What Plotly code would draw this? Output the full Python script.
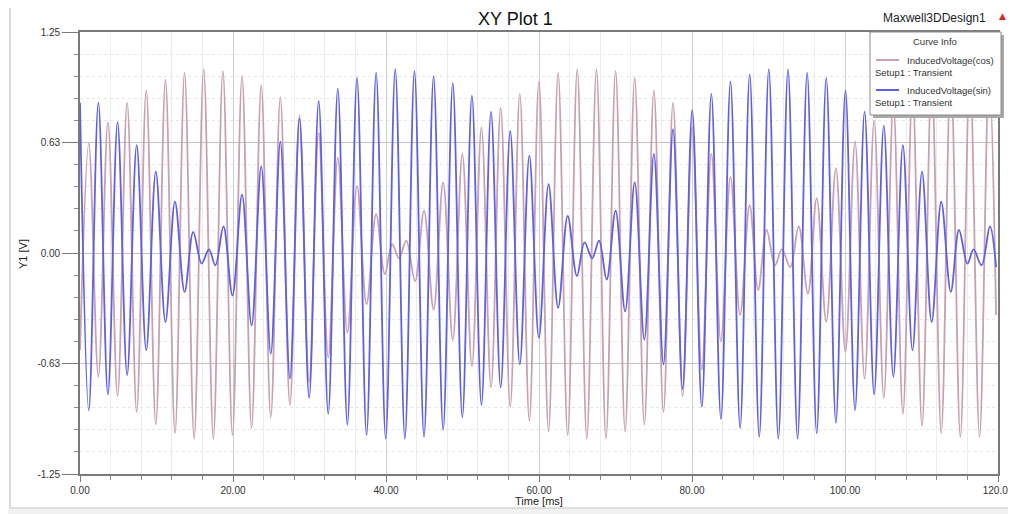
import plotly.graph_objects as go

# ---------------- data (time in ms, voltage in V) ----------------
# InducedVoltage(cos): successive peaks / troughs
cos_time = [0.00, 1.15, 2.40, 3.65, 4.91, 6.16, 7.41, 8.66, 9.91, 11.17,
            12.42, 13.67, 14.92, 16.17, 17.43, 18.68, 19.93, 21.18, 22.43, 23.69,
            24.94, 26.19, 27.44, 28.69, 29.95, 31.20, 32.45, 33.70, 34.95, 36.21,
            37.46, 38.71, 39.85, 40.80, 41.70, 42.65, 43.80, 44.97, 46.22, 47.47,
            48.73, 49.98, 51.23, 52.48, 53.73, 54.99, 56.24, 57.49, 58.74, 59.99,
            61.25, 62.50, 63.75, 65.00, 66.25, 67.51, 68.76, 70.01, 71.26, 72.51,
            73.77, 75.02, 76.27, 77.52, 78.77, 80.03, 81.28, 82.53, 83.78, 85.03,
            86.29, 87.54, 88.65, 89.75, 90.85, 91.75, 92.85, 93.95, 95.15, 96.30,
            97.55, 98.81, 100.06, 101.31, 102.56, 103.81, 105.07, 106.32, 107.57, 108.82,
            110.07, 111.33, 112.58, 113.83, 115.08, 116.33, 117.59, 118.84, 119.75]
cos_volt = [-0.55, 0.62, -0.70, 0.74, -0.81, 0.85, -0.90, 0.92, -0.97, 0.98,
            -1.02, 1.02, -1.05, 1.04, -1.05, 1.03, -1.03, 1.00, -0.99, 0.95,
            -0.93, 0.88, -0.86, 0.78, -0.73, 0.68, -0.59, 0.54, -0.45, 0.38,
            -0.29, 0.22, -0.12, 0.05, -0.03, 0.07, -0.16, 0.24, -0.32, 0.40,
            -0.49, 0.56, -0.64, 0.71, -0.76, 0.82, -0.87, 0.90, -0.95, 0.97,
            -1.01, 1.02, -1.03, 1.04, -1.05, 1.04, -1.05, 1.03, -1.01, 0.99,
            -0.97, 0.92, -0.90, 0.85, -0.81, 0.71, -0.66, 0.56, -0.50, 0.43,
            -0.35, 0.27, -0.21, 0.13, -0.07, 0.02, -0.08, 0.15, -0.23, 0.31,
            -0.39, 0.48, -0.56, 0.63, -0.71, 0.75, -0.82, 0.85, -0.91, 0.93,
            -0.98, 0.99, -1.02, 1.03, -1.04, 1.04, -1.04, 1.03, -0.35]

# InducedVoltage(sin): successive peaks / troughs
sin_time = [0.00, 1.15, 2.40, 3.65, 4.91, 6.16, 7.41, 8.66, 9.91, 11.17,
            12.42, 13.67, 14.80, 15.90, 16.85, 17.70, 18.75, 19.93, 21.18, 22.43,
            23.69, 24.94, 26.19, 27.44, 28.69, 29.95, 31.20, 32.45, 33.70, 34.95,
            36.21, 37.46, 38.71, 39.96, 41.21, 42.47, 43.72, 44.97, 46.22, 47.47,
            48.73, 49.98, 51.23, 52.48, 53.73, 54.99, 56.24, 57.49, 58.74, 59.99,
            61.25, 62.50, 63.75, 64.95, 65.95, 66.95, 67.85, 68.85, 70.01, 71.26,
            72.51, 73.77, 75.02, 76.27, 77.52, 78.77, 80.03, 81.28, 82.53, 83.78,
            85.03, 86.29, 87.54, 88.79, 90.04, 91.29, 92.55, 93.80, 95.05, 96.30,
            97.55, 98.81, 100.06, 101.31, 102.56, 103.81, 105.07, 106.32, 107.57, 108.82,
            110.07, 111.33, 112.58, 113.83, 114.90, 116.00, 116.80, 117.85, 118.95, 119.75]
sin_volt = [0.85, -0.89, 0.85, -0.80, 0.74, -0.69, 0.61, -0.55, 0.46, -0.39,
            0.29, -0.22, 0.12, -0.06, 0.02, -0.07, 0.15, -0.24, 0.33, -0.41,
            0.49, -0.57, 0.63, -0.71, 0.76, -0.82, 0.86, -0.91, 0.93, -0.97,
            0.99, -1.03, 1.02, -1.05, 1.04, -1.05, 1.03, -1.04, 1.00, -1.00,
            0.96, -0.93, 0.89, -0.86, 0.80, -0.76, 0.69, -0.63, 0.55, -0.48,
            0.39, -0.31, 0.21, -0.13, 0.06, -0.03, 0.07, -0.15, 0.24, -0.33,
            0.40, -0.49, 0.56, -0.63, 0.70, -0.77, 0.81, -0.87, 0.90, -0.94,
            0.97, -0.99, 1.01, -1.04, 1.04, -1.05, 1.04, -1.05, 1.02, -1.02,
            0.99, -0.96, 0.92, -0.89, 0.80, -0.80, 0.72, -0.70, 0.61, -0.55,
            0.46, -0.39, 0.29, -0.22, 0.13, -0.06, 0.02, -0.07, 0.15, -0.08]

x_tick_vals = [0, 20, 40, 60, 80, 100, 120]
x_tick_text = ["0.00", "20.00", "40.00", "60.00", "80.00", "100.00", "120.00"]
y_tick_vals = [-1.25, -0.625, 0.0, 0.625, 1.25]
y_tick_text = ["-1.25", "-0.63", "0.00", "0.63", "1.25"]

series_names = ["InducedVoltage(cos)", "InducedVoltage(sin)"]
setup_label = "Setup1 : Transient"

# ---------------- styling ----------------
W, H = 1016, 514          # target picture size
BODY = 8                  # default page margin of the html body
PL, PR, PT, PB = 80, 998, 32, 474   # plot area in picture pixels
FONT = "Liberation Sans, Arial, sans-serif"
COS_COLOR = "#c6a0b3"
SIN_COLOR = "#6060e2"


def fx(x):
    return (x - PL) / (PR - PL)


def fy(y):
    return (PB - y) / (PB - PT)


fig = go.Figure()
fig.add_trace(go.Scatter(x=cos_time, y=cos_volt, mode="lines", name=series_names[0],
                         line=dict(color=COS_COLOR, width=1.8, shape="spline", smoothing=1.0)))
fig.add_trace(go.Scatter(x=sin_time, y=sin_volt, mode="lines", name=series_names[1],
                         line=dict(color=SIN_COLOR, width=1.8, shape="spline", smoothing=1.0)))

fig.update_xaxes(range=[0, 120], tickmode="array", tickvals=x_tick_vals, ticktext=x_tick_text,
                 automargin=False,
                 showline=True, linecolor="#7a7a7a", linewidth=1.6, mirror=True,
                 ticks="outside", ticklen=6, tickcolor="#7a7a7a",
                 showgrid=True, gridcolor="#cfcfcf", gridwidth=1, zeroline=False,
                 tickfont=dict(family=FONT, size=10, color="#333"),
                 minor=dict(dtick=4, tick0=0, ticks="outside", ticklen=4, tickcolor="#8a8a8a",
                            showgrid=True, gridcolor="#ececec", gridwidth=1))
fig.update_yaxes(range=[-1.25, 1.25], tickmode="array", tickvals=y_tick_vals, ticktext=y_tick_text,
                 automargin=False,
                 showline=True, linecolor="#7a7a7a", linewidth=1.6, mirror=True,
                 ticks="outside", ticklen=16, tickcolor="#7a7a7a",
                 showgrid=True, gridcolor="#c4c4c4", gridwidth=1, zeroline=False,
                 tickfont=dict(family=FONT, size=10, color="#333"),
                 minor=dict(dtick=0.125, tick0=0, ticks="outside", ticklen=4, tickcolor="#8a8a8a",
                            showgrid=True, gridcolor="#e6e6e6", gridwidth=1, griddash="dot"))

shapes = []
# outer frame (left and bottom edges) and grey strip at bottom
shapes.append(dict(type="rect", xref="paper", yref="paper", x0=fx(BODY), x1=fx(W), y0=fy(H), y1=fy(508),
                   line=dict(width=0), fillcolor="#f1f1f1", layer="below"))
shapes.append(dict(type="line", xref="paper", yref="paper", x0=fx(10), x1=fx(10), y0=fy(8), y1=fy(508),
                   line=dict(color="#b5b5b5", width=1)))
shapes.append(dict(type="line", xref="paper", yref="paper", x0=fx(10), x1=fx(1014), y0=fy(508), y1=fy(508),
                   line=dict(color="#c5c5c5", width=1)))
# legend box with shadow
shapes.append(dict(type="rect", xref="paper", yref="paper", x0=fx(873), x1=fx(1004), y0=fy(118), y1=fy(35),
                   line=dict(width=0), fillcolor="#a8a8a8", layer="above"))
shapes.append(dict(type="rect", xref="paper", yref="paper", x0=fx(870), x1=fx(1001), y0=fy(115), y1=fy(32),
                   line=dict(color="#8a8a8a", width=1), fillcolor="white", layer="above"))
shapes.append(dict(type="line", xref="paper", yref="paper", x0=fx(876), x1=fx(899), y0=fy(60), y1=fy(60),
                   line=dict(color=COS_COLOR, width=2), layer="above"))
shapes.append(dict(type="line", xref="paper", yref="paper", x0=fx(876), x1=fx(899), y0=fy(90), y1=fy(90),
                   line=dict(color=SIN_COLOR, width=2), layer="above"))

annotations = []


def txt(text, x, y, size, anchor="center", color="#222", angle=0, family=FONT):
    annotations.append(dict(text=text, x=fx(x), y=fy(y), xref="paper", yref="paper",
                            xanchor=anchor, yanchor="middle", showarrow=False, textangle=angle,
                            font=dict(family=family, size=size, color=color)))


txt("XY Plot 1", 515, 18.5, 18, color="#111")
txt("Maxwell3DDesign1", 934, 18, 12, color="#222")
txt("▲", 1003, 16, 9, color="#d02c2c", family="DejaVu Sans")
txt("Time [ms]", (PL + PR) / 2, 501, 11, color="#222")
txt("Y1 [V]", 23, 254, 11, color="#222", angle=-90)
txt("Curve Info", 935, 41.5, 9.5, color="#333")
txt(series_names[0], 905, 60, 9.5, anchor="left", color="#333")
txt(setup_label, 873, 72, 9.5, anchor="left", color="#333")
txt(series_names[1], 905, 90, 9.5, anchor="left", color="#333")
txt(setup_label, 873, 102.5, 9.5, anchor="left", color="#333")

# the page body adds an 8 px offset, so the figure is drawn 8 px smaller
fig.update_layout(width=W - BODY, height=H - BODY, autosize=False,
                  margin=dict(l=PL - BODY, r=W - PR, t=PT - BODY, b=H - PB, pad=0, autoexpand=False),
                  paper_bgcolor="white", plot_bgcolor="white",
                  showlegend=False, shapes=shapes, annotations=annotations,
                  font=dict(family=FONT))

fig.write_html("out.html")
